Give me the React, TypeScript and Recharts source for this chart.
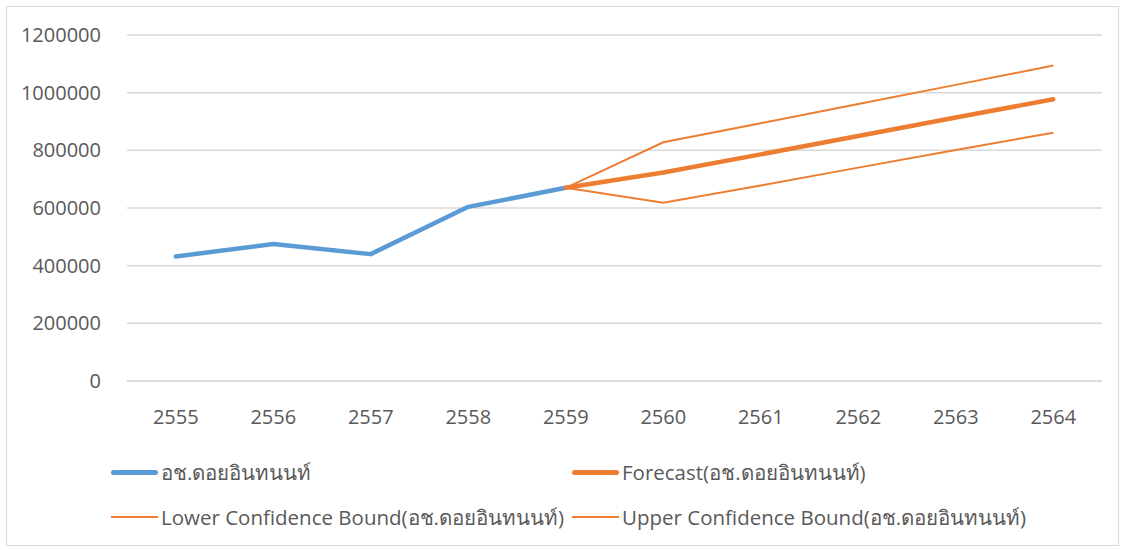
import React from 'react';
import { LineChart, Line, XAxis, YAxis, CartesianGrid, Legend } from 'recharts';

const years = ['2555', '2556', '2557', '2558', '2559', '2560', '2561', '2562', '2563', '2564'];
const actual: (number | null)[] = [432000, 475000, 440000, 604000, 670000, null, null, null, null, null];
const forecast: (number | null)[] = [null, null, null, null, 670000, 723000, 786000, 850000, 914000, 977000];
const lowerBound: (number | null)[] = [null, null, null, null, 670000, 618000, 678000, 740000, 801000, 861000];
const upperBound: (number | null)[] = [null, null, null, null, 670000, 828000, 894000, 961000, 1027000, 1094000];
const yTicks = [0, 200000, 400000, 600000, 800000, 1000000, 1200000];

const seriesNames = {
  actual: 'อช.ดอยอินทนนท์',
  forecast: 'Forecast(อช.ดอยอินทนนท์)',
  lower: 'Lower Confidence Bound(อช.ดอยอินทนนท์)',
  upper: 'Upper Confidence Bound(อช.ดอยอินทนนท์)',
};

const data = years.map((y, i) => ({
  year: y,
  actual: actual[i],
  forecast: forecast[i],
  lower: lowerBound[i],
  upper: upperBound[i],
}));

const BLUE = '#5b9bd5';
const ORANGE = '#ed7d31';
const TEXT = '#595959';
const FONT = '"Open Sans", "Noto Sans", sans-serif';

const legendItems = [
  { name: seriesNames.actual, color: BLUE, width: 5, left: 84, top: 21 },
  { name: seriesNames.forecast, color: ORANGE, width: 5, left: 545, top: 21 },
  { name: seriesNames.lower, color: ORANGE, width: 2, left: 84, top: 66 },
  { name: seriesNames.upper, color: ORANGE, width: 2, left: 545, top: 66 },
];

const LegendContent = () => (
  <div style={{ position: 'relative', width: 1075, height: 99, fontFamily: FONT }}>
    {legendItems.map((it) => (
      <div
        key={it.name}
        style={{
          position: 'absolute',
          left: it.left,
          top: it.top,
          height: 20,
          display: 'flex',
          alignItems: 'center',
          whiteSpace: 'nowrap',
        }}
      >
        <div style={{ width: 47, height: it.width, background: it.color, borderRadius: it.width > 2 ? 3 : 0 }} />
        <span style={{ marginLeft: 3, fontSize: 20.5, color: TEXT }}>{it.name}</span>
      </div>
    ))}
  </div>
);

export default function App() {
  return (
    <div style={{ position: 'absolute', left: 0, top: 0, width: 1125, height: 550, background: '#fff' }}>
      <div
        style={{
          position: 'absolute',
          left: 6,
          top: 6,
          width: 1111,
          height: 538,
          border: '1px solid #d9d9d9',
        }}
      />
      <div style={{ position: 'absolute', left: 0, top: 0 }}>
        <LineChart width={1125} height={550} data={data} margin={{ top: 35, right: 23, left: 27, bottom: 10 }}>
          <CartesianGrid vertical={false} stroke="#d9d9d9" strokeWidth={1.5} />
          <XAxis
            dataKey="year"
            scale="band"
            axisLine={{ stroke: '#d9d9d9', strokeWidth: 1.5 }}
            tickLine={false}
            tickMargin={23}
            height={60}
            tick={{ fill: TEXT, fontSize: 20, fontFamily: FONT }}
          />
          <YAxis
            domain={[0, 1200000]}
            ticks={yTicks}
            width={100}
            axisLine={false}
            tickLine={false}
            tickMargin={20}
            tick={{ fill: TEXT, fontSize: 20, fontFamily: FONT }}
          />
          <Legend verticalAlign="bottom" content={<LegendContent />} />
          <Line dataKey="actual" name={seriesNames.actual} stroke={BLUE} strokeWidth={4.5} dot={false} isAnimationActive={false} strokeLinecap="round" strokeLinejoin="round" />
          <Line dataKey="lower" name={seriesNames.lower} stroke={ORANGE} strokeWidth={2} dot={false} isAnimationActive={false} />
          <Line dataKey="upper" name={seriesNames.upper} stroke={ORANGE} strokeWidth={2} dot={false} isAnimationActive={false} />
          <Line dataKey="forecast" name={seriesNames.forecast} stroke={ORANGE} strokeWidth={4.5} dot={false} isAnimationActive={false} strokeLinecap="round" strokeLinejoin="round" />
        </LineChart>
      </div>
    </div>
  );
}
